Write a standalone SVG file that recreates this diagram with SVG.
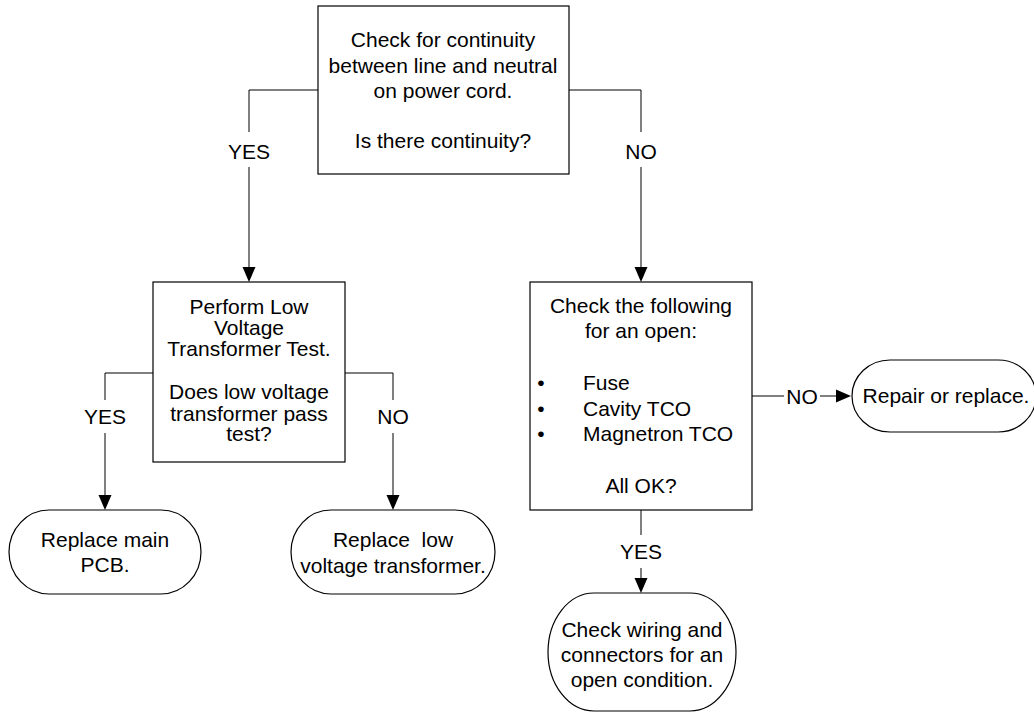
<svg xmlns="http://www.w3.org/2000/svg" width="1034" height="715" viewBox="0 0 1034 715">
<defs>
<style>
.box{fill:#fff;stroke:#000;stroke-width:1.2}
.t{font-family:"Liberation Sans",Arial,sans-serif;font-size:21px;fill:#000;text-anchor:middle}
.l{font-family:"Liberation Sans",Arial,sans-serif;font-size:21px;fill:#000;text-anchor:start}
.c{fill:none;stroke:#000;stroke-width:1}
.ah{fill:#000;stroke:none}
</style>
</defs>
<rect width="1034" height="715" fill="#fff"/>
<g id="connectors">
<!-- top YES -->
<path class="c" d="M318,90 H249 V132 M249,167 V268"/>
<polygon class="ah" points="242.5,267 255.5,267 249,282"/>
<text class="t" x="249" y="159">YES</text>
<!-- top NO -->
<path class="c" d="M569,90 H641 V132 M641,167 V268"/>
<polygon class="ah" points="634.5,267 647.5,267 641,282"/>
<text class="t" x="641" y="159">NO</text>
<!-- perform YES -->
<path class="c" d="M153,373 H105 V400 M105,433 V496"/>
<polygon class="ah" points="98.5,495 111.5,495 105,510"/>
<text class="t" x="105" y="424">YES</text>
<!-- perform NO -->
<path class="c" d="M345,373 H393 V400 M393,433 V496"/>
<polygon class="ah" points="386.5,495 399.5,495 393,510"/>
<text class="t" x="393" y="424">NO</text>
<!-- check NO -->
<path class="c" d="M752,396 H784 M820,396 H837"/>
<polygon class="ah" points="836,389.5 836,402.5 851,396"/>
<text class="t" x="802" y="403.5">NO</text>
<!-- check YES -->
<path class="c" d="M641,510 V535 M641,568 V579"/>
<polygon class="ah" points="634.5,578 647.5,578 641,593"/>
<text class="t" x="641" y="559">YES</text>
</g>
<g id="node-continuity">
<rect class="box" x="318" y="6" width="251" height="168"/>
<text class="t" x="443" y="47">Check for continuity</text>
<text class="t" x="443" y="72.5">between line and neutral</text>
<text class="t" x="443" y="98">on power cord.</text>
<text class="t" x="443" y="148">Is there continuity?</text>
</g>
<g id="node-lvt-test">
<rect class="box" x="153" y="282" width="192" height="180"/>
<text class="t" x="249" y="314">Perform Low</text>
<text class="t" x="249" y="335">Voltage</text>
<text class="t" x="249" y="356">Transformer Test.</text>
<text class="t" x="249" y="399">Does low voltage</text>
<text class="t" x="249" y="420.5">transformer pass</text>
<text class="t" x="249" y="441">test?</text>
</g>
<g id="node-check-open">
<rect class="box" x="530" y="282" width="222" height="228"/>
<text class="t" x="641" y="313">Check the following</text>
<text class="t" x="641" y="338">for an open:</text>
<text class="t" x="541" y="390">•</text>
<text class="t" x="541" y="415.5">•</text>
<text class="t" x="541" y="441">•</text>
<text class="l" x="583" y="390">Fuse</text>
<text class="l" x="583" y="415.5">Cavity TCO</text>
<text class="l" x="583" y="441">Magnetron TCO</text>
<text class="t" x="641" y="493">All OK?</text>
</g>
<g id="node-replace-pcb">
<rect class="box" x="9" y="510" width="192" height="84" rx="40" ry="42"/>
<text class="t" x="105" y="547">Replace main</text>
<text class="t" x="105" y="572">PCB.</text>
</g>
<g id="node-replace-lvt">
<rect class="box" x="291" y="510" width="204" height="84" rx="40" ry="42"/>
<text class="t" x="393" y="547" xml:space="preserve">Replace  low</text>
<text class="t" x="393" y="572.5">voltage transformer.</text>
</g>
<g id="node-repair">
<rect class="box" x="852" y="360" width="184" height="72" rx="38" ry="36"/>
<text class="t" x="946" y="403">Repair or replace.</text>
</g>
<g id="node-check-wiring">
<rect class="box" x="548" y="593" width="188" height="118" rx="46" ry="59"/>
<text class="t" x="642" y="637">Check wiring and</text>
<text class="t" x="642" y="662">connectors for an</text>
<text class="t" x="642" y="686.5">open condition.</text>
</g>
</svg>
